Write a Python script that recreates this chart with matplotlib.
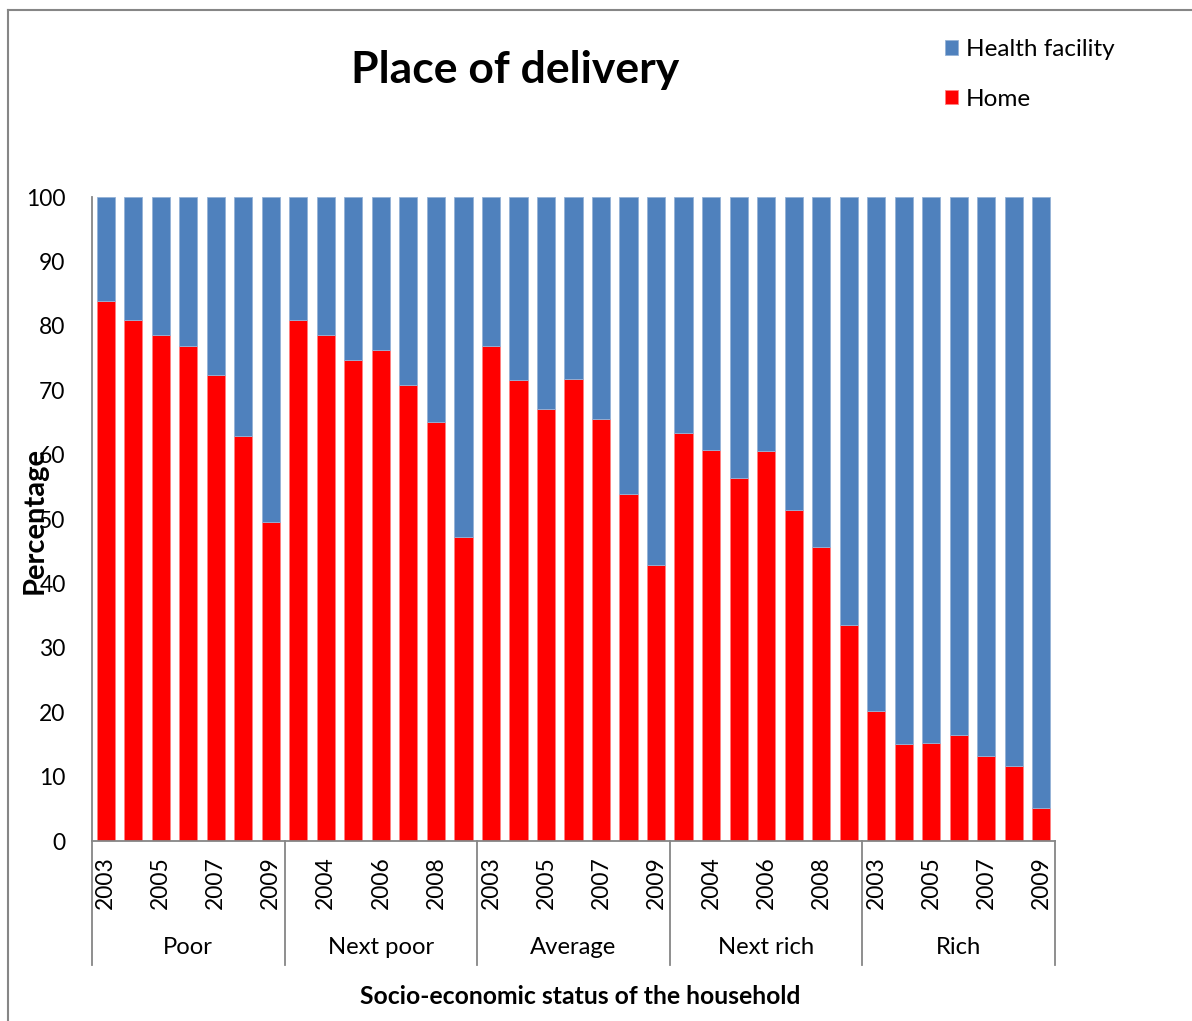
import matplotlib
matplotlib.use("Agg")
import matplotlib.pyplot as plt
import matplotlib.transforms as mtransforms
from matplotlib.lines import Line2D

plt.rcParams['font.family'] = ['Lato', 'DejaVu Sans']

groups = ["Poor", "Next poor", "Average", "Next rich", "Rich"]
years = ["2003", "2004", "2005", "2006", "2007", "2008", "2009"]

home_poor = [83.9, 80.9, 78.5, 76.8, 72.4, 62.9, 49.6]
home_next_poor = [80.9, 78.6, 74.7, 76.2, 70.8, 65.1, 47.2]
home_average = [76.9, 71.6, 67.1, 71.7, 65.5, 53.9, 42.9]
home_next_rich = [63.4, 60.7, 56.4, 60.6, 51.4, 45.7, 33.6]
home_rich = [20.2, 15.0, 15.2, 16.5, 13.2, 11.7, 5.2]

home = home_poor + home_next_poor + home_average + home_next_rich + home_rich
facility = [100 - h for h in home]
year_labels = years * len(groups)

W, H = 1192, 1021
fig = plt.figure(figsize=(W / 100, H / 100), dpi=100)
ax = fig.add_axes([92 / W, 1 - 841 / H, (1055 - 92) / W, (841 - 197) / H])

x = list(range(len(home)))
b_home = ax.bar(x, home, width=0.66, color="#FF0000", edgecolor="#FF7F7F", linewidth=0.6, label="Home")
b_fac = ax.bar(x, facility, bottom=home, width=0.66, color="#4F81BD", edgecolor="#95B3D7", linewidth=0.6,
               label="Health facility")

ax.set_xlim(-0.5, len(home) - 0.5)
ax.set_ylim(0, 100)
ax.set_yticks(range(0, 101, 10))
ax.tick_params(axis="y", length=0, labelsize=16.5, pad=19)

shown = list(range(0, len(home), 2))
ax.set_xticks(shown)
ax.set_xticklabels([year_labels[i] for i in shown], rotation=90, fontsize=16.4)
ax.tick_params(axis="x", length=0, pad=11)

for s in ["top", "right"]:
    ax.spines[s].set_visible(False)
for s in ["left", "bottom"]:
    ax.spines[s].set_color("#868686")
    ax.spines[s].set_linewidth(1.3)

trans = mtransforms.blended_transform_factory(ax.transData, ax.transAxes)
n = len(years)
for g in range(len(groups) + 1):
    xb = g * n - 0.5
    ax.add_line(Line2D([xb, xb], [0, -(965 - 841) / 644], transform=trans, color="#868686",
                       linewidth=1.3, clip_on=False))
for g, name in enumerate(groups):
    xc = g * n + (n - 1) / 2
    ax.text(xc, -(948 - 841) / 644, name, transform=trans, ha="center", va="center", fontsize=17.2)

fig.text(515 / W, 1 - 70 / H, "Place of delivery", ha="center", va="center", fontsize=32, fontweight="bold")
fig.text(580 / W, 1 - 996 / H, "Socio-economic status of the household", ha="center", va="center",
         fontsize=17.8, fontweight="bold")
fig.text(35 / W, 1 - 520 / H, "Percentage", ha="center", va="center", rotation=90, fontsize=21,
         fontweight="bold")

fig.legend([b_fac, b_home], ["Health facility", "Home"], loc="upper left",
           bbox_to_anchor=(923 / W, 1 - 17 / H), frameon=False, fontsize=17.5,
           handlelength=0.55, handleheight=0.55, handletextpad=0.3, labelspacing=1.18)

# figure border (top and left visible)
fig.add_artist(Line2D([8 / W, 8 / W], [0, 1 - 10 / H], transform=fig.transFigure, color="#868686", linewidth=1.5))
fig.add_artist(Line2D([8 / W, 1], [1 - 10 / H, 1 - 10 / H], transform=fig.transFigure, color="#868686", linewidth=1.5))

fig.savefig("out.png", dpi=100)
